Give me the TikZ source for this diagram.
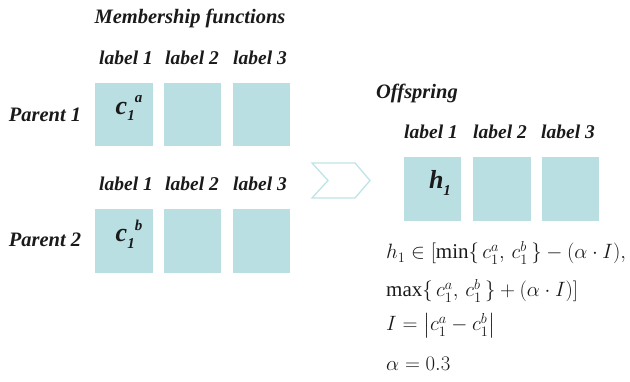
\documentclass[tikz,border=0pt]{standalone}
\usepackage{amsmath}
\usepackage{fontspec}
\setmainfont{Liberation Serif}
\usetikzlibrary{positioning}
\definecolor{cell}{HTML}{B9DFE2}
\definecolor{chev}{HTML}{BFE3E6}
\definecolor{ink}{HTML}{1A1A1A}
\tikzset{
  cellbox/.style={fill=cell, draw=none},
  bi/.style={font=\fontsize{19.5}{21}\selectfont\bfseries\itshape, text=ink, inner sep=0pt},
  big/.style={bi, font=\fontsize{26}{26}\selectfont\bfseries\itshape},
  side/.style={bi, font=\fontsize{20.5}{22}\selectfont\bfseries\itshape},
  eq/.style={font=\fontsize{21}{23}\selectfont, text=ink, inner sep=0pt, anchor=base west},
}
\newcommand{\gene}[2]{#1\raisebox{-0.25em}{\fontsize{15}{15}\selectfont 1}\raisebox{0.45em}{\fontsize{15}{15}\selectfont #2}}
\begin{document}
\begin{tikzpicture}[x=1pt,y=-1pt]
\useasboundingbox (0,0) rectangle (630,382);

% parents: headings and labels
\node[bi, font=\fontsize{20.5}{22}\selectfont\bfseries\itshape] (mf) at (190,18) {Membership functions};
\node[bi] (l11) at (126,58) {label 1};
\node[bi] (l12) at (192,58) {label 2};
\node[bi] (l13) at (260,58) {label 3};
\node[bi] (l21) at (126,184) {label 1};
\node[bi] (l22) at (192,184) {label 2};
\node[bi] (l23) at (260,184) {label 3};

% parent 1 cells
\path[cellbox] (95,83) rectangle (153,146);
\path[cellbox] (164,83) rectangle (221,146);
\path[cellbox] (233,83) rectangle (290,146);
\node[big] (ca) at (129,108) {\gene{c}{a}};
\node[side] (p1) at (45,115) {Parent 1};

% parent 2 cells
\path[cellbox] (95,209) rectangle (153,273);
\path[cellbox] (164,209) rectangle (221,273);
\path[cellbox] (233,209) rectangle (290,273);
\node[big] (cb) at (129,234) {\gene{c}{b}};
\node[side] (p2) at (45,240) {Parent 2};

% chevron
\draw[chev, line width=1.3pt, line join=miter]
  (312,163) -- (355,163) -- (370,180.5) -- (355,198) -- (312,198) -- (328,180.5) -- cycle;

% offspring
\node[side] (off) at (417,93) {Offspring};
\node[bi] (o1) at (431,132) {label 1};
\node[bi] (o2) at (500,132) {label 2};
\node[bi] (o3) at (568,132) {label 3};
\path[cellbox] (404,157) rectangle (461,221);
\path[cellbox] (473,157) rectangle (531,221);
\path[cellbox] (542,157) rectangle (599,221);
\node[big] (h) at (440,183) {h\raisebox{-0.25em}{\fontsize{15}{15}\selectfont 1}};

% crossover interval
\node[eq] (e1) at (386,259) {$h_1 \in [\min\{\,c_1^a,\, c_1^b\,\} - (\alpha\cdot I),$};
\node[eq] (e2) at (386,297) {$\max\{\,c_1^a,\, c_1^b\,\} + (\alpha\cdot I)]$};
\node[eq] (e3) at (386,331) {$I = \bigl| c_1^a - c_1^b \bigr|$};
\node[eq] (e4) at (386,371) {$\alpha = 0.3$};
\end{tikzpicture}
\end{document}
